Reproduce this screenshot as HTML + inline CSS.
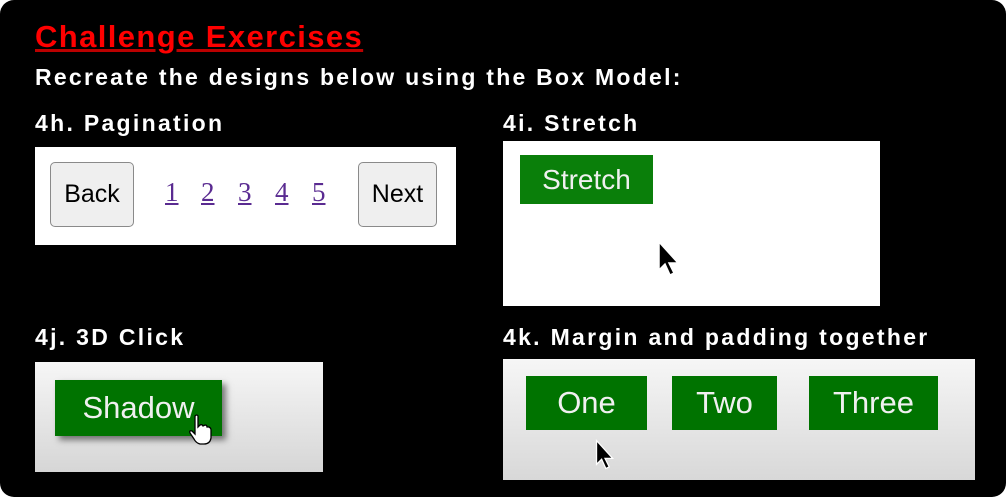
<!DOCTYPE html>
<html><head><meta charset="utf-8"><style>
html,body{margin:0;padding:0;width:1006px;height:497px;overflow:hidden;background:#fff;}
#slide{position:absolute;left:0;top:0;width:1006px;height:497px;background:#000;border-radius:14px;overflow:hidden;font-family:"Liberation Sans",sans-serif;}
.abs{position:absolute;}
.h{color:#fff;font-weight:bold;white-space:nowrap;}
.box{position:absolute;background:#fff;}
.btn{position:absolute;box-sizing:border-box;display:flex;align-items:center;justify-content:center;white-space:nowrap;}
.gray{background:#efefef;border:1.5px solid #8a8a8a;border-radius:5px;color:#000;font-size:25px;}
.green{background:#007300;color:#f0f0f0;font-size:31px;}
.lnk{position:absolute;top:177px;font-family:"Liberation Serif",serif;font-size:27px;color:#5a2b91;text-decoration:underline;}
</style></head><body>
<div id="slide">
  <div class="abs" style="left:35px;top:19px;color:#f00;font-weight:bold;font-size:31px;letter-spacing:1.4px;text-decoration:underline;text-decoration-color:#b00;white-space:nowrap;">Challenge Exercises</div>
  <div class="abs h" style="left:35px;top:64px;font-size:23px;letter-spacing:2.25px;">Recreate the designs below using the Box Model:</div>

  <div class="abs h" style="left:35px;top:110px;font-size:23px;letter-spacing:2.3px;">4h. Pagination</div>
  <div class="box" style="left:35px;top:147px;width:421px;height:98px;"></div>
  <div class="btn gray" style="left:50px;top:162px;width:84px;height:65px;">Back</div>
  <span class="lnk" style="left:165px;">1</span>
  <span class="lnk" style="left:201px;">2</span>
  <span class="lnk" style="left:238px;">3</span>
  <span class="lnk" style="left:275px;">4</span>
  <span class="lnk" style="left:312px;">5</span>
  <div class="btn gray" style="left:358px;top:162px;width:79px;height:65px;">Next</div>

  <div class="abs h" style="left:503px;top:110px;font-size:23px;letter-spacing:2.3px;">4i. Stretch</div>
  <div class="box" style="left:503px;top:141px;width:377px;height:165px;"></div>
  <div class="btn green" style="left:520px;top:155px;width:133px;height:49px;background:#0a7f0a;font-size:28px;">Stretch</div>
  <svg class="abs" style="left:656px;top:240px;" width="26" height="38" viewBox="0 0 26 38"><path d="M3 2 L3 30 L9 24 L14 35 L18 33 L13 23 L22 23 Z" fill="#000" stroke="#fff" stroke-width="1.5"/></svg>

  <div class="abs h" style="left:35px;top:324px;font-size:23px;letter-spacing:2.3px;">4j. 3D Click</div>
  <div class="box" style="left:35px;top:362px;width:288px;height:110px;background:linear-gradient(#f6f6f6,#d6d6d6);"></div>
  <div class="btn green" style="left:55px;top:380px;width:167px;height:56px;box-shadow:4px 4px 6px rgba(0,0,0,0.5);">Shadow</div>
  <svg class="abs" style="left:188px;top:414px;" width="26" height="32" viewBox="0 0 26 32"><path d="M7 2 Q9 0 10 2 L10 13 L12 11 Q14 10 15 12 L17 11 Q19 11 19 13 L21 13 Q23 14 23 16 L23 24 Q22 30 16 30 L12 30 Q8 29 6 25 L2 19 Q1 16 4 17 L7 20 Z" fill="#fff" stroke="#000" stroke-width="1.3"/></svg>

  <div class="abs h" style="left:503px;top:324px;font-size:23px;letter-spacing:2.3px;">4k. Margin and padding together</div>
  <div class="box" style="left:503px;top:359px;width:472px;height:121px;background:linear-gradient(#f6f6f6,#d8d8d8);"></div>
  <div class="btn green" style="left:526px;top:376px;width:121px;height:54px;">One</div>
  <div class="btn green" style="left:672px;top:376px;width:105px;height:54px;">Two</div>
  <div class="btn green" style="left:809px;top:376px;width:129px;height:54px;">Three</div>
  <svg class="abs" style="left:594px;top:438px;" width="22" height="34" viewBox="0 0 26 38"><path d="M3 2 L3 30 L9 24 L14 35 L18 33 L13 23 L22 23 Z" fill="#000" stroke="#fff" stroke-width="1.5"/></svg>
</div>
</body></html>
